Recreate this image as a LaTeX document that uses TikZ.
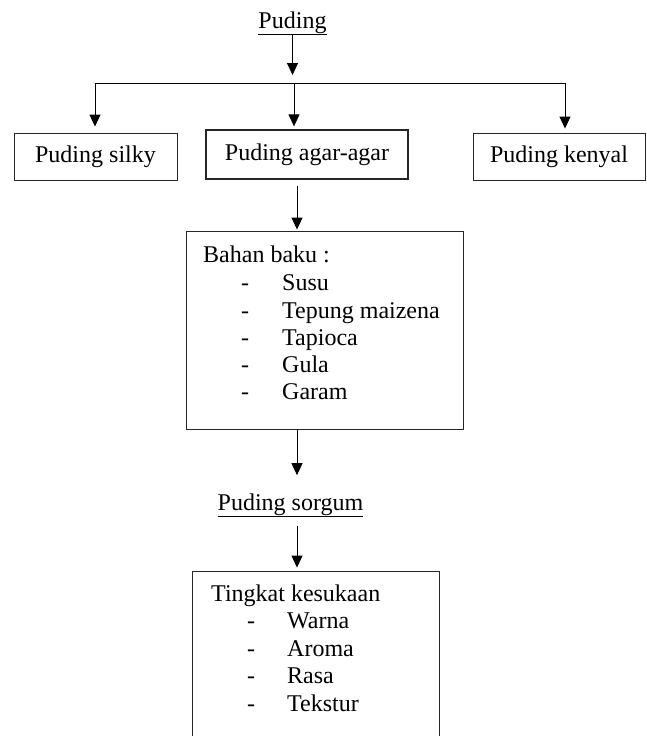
\documentclass[tikz,border=0pt]{standalone}
\usepackage{fontspec}
\setmainfont{Liberation Serif}
\usetikzlibrary{arrows.meta}

\begin{document}
\begin{tikzpicture}[x=1pt, y=-1pt,
    every node/.style={font=\fontsize{24}{27}\selectfont},
    kotak/.style={rectangle, draw=black!85, line width=0.9pt, inner sep=0pt},
    teks/.style={anchor=base west, inner sep=0pt},
    panah/.style={line width=1pt, -{Triangle[length=12pt, width=11pt]}}]
   \clip (0,0) rectangle (646,736);
   % puding dan tiga jenisnya
   \node[inner sep=0pt, anchor=base] (puding) at (292.5,28) {\underline{Puding}};
   \coordinate (kiri) at (95,83);
   \coordinate (tengah) at (294,83);
   \coordinate (kanan) at (565,83);
   \node[kotak, minimum width=163pt, minimum height=47pt] (silky) at (95.5,156.5) {Puding silky};
   \node[kotak, line width=1.3pt, minimum width=202pt, minimum height=49pt] (agar) at (307,154.5) {Puding agar-agar};
   \node[kotak, minimum width=172pt, minimum height=47pt] (kenyal) at (559,156.5) {Puding kenyal};
   \draw[panah, shorten >=8pt] (puding.south) -- (puding.south |- tengah);
   \draw[line width=1pt] (kiri) -- (kanan);
   \draw[panah, shorten >=6pt] (kiri) -- (kiri |- silky.north);
   \draw[panah, shorten >=3pt] (tengah) -- (tengah |- agar.north);
   \draw[panah, shorten >=4pt] (kanan) -- (kanan |- kenyal.north);
   % bahan baku
   \node[kotak, minimum width=277pt, minimum height=198pt] (bahan) at (324.5,330) {};
   \node[teks] (judulbahan) at (203,262) {Bahan baku :};
   \node[teks] (s1) at (241,290) {-};
   \node[teks] (susu) at (282,290) {Susu};
   \node[teks] (s2) at (241,318) {-};
   \node[teks] (tepung) at (282,318) {Tepung maizena};
   \node[teks] (s3) at (241,345) {-};
   \node[teks] (tapioka) at (282,345) {Tapioca};
   \node[teks] (s4) at (241,372) {-};
   \node[teks] (gula) at (282,372) {Gula};
   \node[teks] (s5) at (241,399) {-};
   \node[teks] (garam) at (282,399) {Garam};
   % puding sorgum
   \node[inner sep=0pt, anchor=base] (sorgum) at (290.5,510) {\underline{Puding sorgum}};
   \node[kotak, minimum width=247pt, minimum height=209pt] (tingkat) at (315.5,675.5) {};
   \node[teks] (judultingkat) at (211,601) {Tingkat kesukaan};
   \node[teks] (t1) at (247,628) {-};
   \node[teks] (warna) at (287,628) {Warna};
   \node[teks] (t2) at (247,656) {-};
   \node[teks] (aroma) at (287,656) {Aroma};
   \node[teks] (t3) at (247,683) {-};
   \node[teks] (rasa) at (287,683) {Rasa};
   \node[teks] (t4) at (247,711) {-};
   \node[teks] (tekstur) at (287,711) {Tekstur};
   \coordinate (poros) at (297,0);
   \draw[panah, shorten <=6pt, shorten >=1pt] (poros |- agar.south) -- (poros |- bahan.north);
   \draw[panah, shorten >=18pt] (poros |- bahan.south) -- (poros |- sorgum.north);
   \draw[panah, shorten <=9pt, shorten >=3pt] (poros |- sorgum.south) -- (poros |- tingkat.north);
\end{tikzpicture}
\end{document}
